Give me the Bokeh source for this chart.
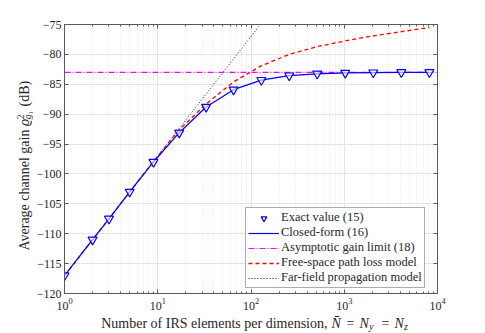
from bokeh.plotting import figure
from bokeh.models import (LogAxis, LinearAxis, Range1d, Legend, LegendItem,
                          LogTicker, SingleIntervalTicker)
from bokeh.layouts import row, column
from bokeh.core.properties import value
from bokeh.embed import file_html
from bokeh.resources import INLINE
import math

# ---- data ----
n_elements = [1, 2, 3, 5, 9, 17, 33, 65, 129, 257, 513, 1025, 2049, 4097, 8193]
exact_db = [-117.0, -111.0, -107.5, -103.0, -98.0, -93.1, -88.8, -85.9, -84.3,
            -83.55, -83.25, -83.1, -83.05, -83.0, -83.0]
closed_db = [-117.0, -111.0, -107.5, -103.0, -98.0, -93.1, -88.8, -85.9, -84.3,
             -83.55, -83.25, -83.1, -83.05, -83.0, -83.0]
fspl_db = [-117.0, -111.0, -107.5, -103.0, -97.9, -92.6, -88.3, -84.6, -81.9,
           -80.0, -78.7, -77.75, -76.9, -76.2, -75.5]
asym_n = [1, 10000]
asym_db = [-83.0, -83.0]
far_n = [1, 10, 100, 1000]
far_db = [-117.0, -97.0, -77.0, -57.0]

FONT = "Liberation Serif"
AX = "#5a5a5a"
TXT = "#262626"

# ---- layout sizes (px) ----
LW = 33                       # left strip holding the y title
BL, BT, FW, FH, BR, BB = 28, 24, 376, 269, 40, 22
MW, MH = BL + FW + BR, BT + FH + BB
BH = 17                       # bottom strip holding the x title
TOTW = LW + MW

p = figure(width=MW, height=MH, x_axis_type="log",
           x_range=Range1d(1, 10000), y_range=Range1d(-120, -75),
           output_backend="svg", toolbar_location=None,
           min_border_left=BL, min_border_right=BR,
           min_border_top=BT, min_border_bottom=BB)
p.background_fill_color = "white"
p.outline_line_color = AX
p.outline_line_width = 1

p.xgrid.grid_line_color = "#e4e4e4"
p.xgrid.minor_grid_line_color = "#e4e4e4"
p.xgrid.minor_grid_line_dash = "1 2"
p.ygrid.grid_line_color = "#e4e4e4"

xt = LogTicker(mantissas=[1], num_minor_ticks=10, desired_num_ticks=5)
yt = SingleIntervalTicker(interval=5)
p.xaxis.ticker = xt
p.yaxis.ticker = yt
p.xgrid.ticker = xt
p.ygrid.ticker = yt


def style_axis(ax, show_labels=True, minor=True):
    ax.axis_line_color = AX
    ax.major_tick_line_color = AX
    ax.minor_tick_line_color = AX if minor else None
    ax.major_tick_in = 4
    ax.major_tick_out = 0
    ax.minor_tick_in = 2
    ax.minor_tick_out = 0
    ax.major_label_text_font = FONT
    ax.major_label_text_color = TXT
    ax.major_label_text_font_size = "12px"
    if not show_labels:
        ax.major_label_text_color = None
        ax.major_label_text_font_size = "2px"
        ax.major_label_standoff = 0


style_axis(p.xaxis[0])
style_axis(p.yaxis[0], minor=False)
p.xaxis.major_label_standoff = 4
p.yaxis.major_label_standoff = 3

top_ax = LogAxis(ticker=xt)
style_axis(top_ax, show_labels=False)
right_ax = LinearAxis(ticker=yt)
style_axis(right_ax, show_labels=False, minor=False)
p.add_layout(top_ax, "above")
p.add_layout(right_ax, "right")

# ---- series ----
r_far = p.line(far_n, far_db, line_color="black", line_width=0.9, line_dash="1 2")
r_fspl = p.line(n_elements, fspl_db, line_color="#ff0000", line_width=1.3, line_dash="4 3")
r_asym = p.line(asym_n, asym_db, line_color="#ff00ff", line_width=1.2, line_dash="6 2 1 2")
r_closed = p.line(n_elements, closed_db, line_color="#0000ff", line_width=1.2)
r_exact = p.scatter(n_elements, exact_db, marker="inverted_triangle", size=9,
                    line_color="#0000ff", line_width=1.2, fill_color="white", fill_alpha=0.6)

legend = Legend(items=[
    LegendItem(label="Exact value (15)", renderers=[r_exact]),
    LegendItem(label="Closed-form (16)", renderers=[r_closed]),
    LegendItem(label="Asymptotic gain limit (18)", renderers=[r_asym]),
    LegendItem(label="Free-space path loss model", renderers=[r_fspl]),
    LegendItem(label="Far-field propagation model", renderers=[r_far]),
], location=(181, 5))
legend.label_text_font = FONT
legend.label_text_font_size = "12.5px"
legend.label_text_color = TXT
legend.label_height = 14
legend.glyph_height = 14
legend.glyph_width = 31
legend.label_standoff = 2
legend.spacing = 0
legend.padding = 2
legend.margin = 0
legend.border_line_color = AX
legend.border_line_width = 1
legend.background_fill_color = "white"
legend.background_fill_alpha = 1
p.add_layout(legend, "center")


def strip(w, h):
    f = figure(width=w, height=h, x_range=Range1d(0, w), y_range=Range1d(0, h),
               output_backend="svg", toolbar_location=None,
               x_axis_location=None, y_axis_location=None, min_border=0)
    f.xgrid.visible = False
    f.ygrid.visible = False
    f.outline_line_color = None
    f.background_fill_color = "white"
    f.border_fill_color = "white"
    return f


def put(f, texts, xs, ys, size, style="normal", align="left", angle=0.0):
    f.text(x=xs, y=ys, text=texts, text_font=value(FONT), text_font_size=value(size),
           text_font_style=style, text_color=TXT, text_align=align,
           text_baseline="middle", angle=angle)


# ---- y title (left strip; page origin of strip = (1, 1)) ----
left = strip(LW, MH)
A = math.pi / 2
xc = 25 - 1


def ly(py):
    return MH - (py - 1)


put(left, ["Average channel gain"], [xc], [ly(124)], "14px", align="right", angle=A)
put(left, ["\u03f1"], [xc], [ly(120)], "14px", style="italic", angle=A)
put(left, ["2"], [xc - 4.5], [ly(112)], "9.5px", angle=A)
put(left, ["g\u2081"], [xc + 3.5], [ly(112)], "9.5px", style="italic", angle=A)
put(left, ["(dB)"], [xc], [ly(97)], "14px", angle=A)

# ---- x title (bottom strip; page top of strip = 1 + MH) ----
bottom = strip(TOTW, BH)


def bx(px):
    return px - 1


def by(py):
    return BH - (py - 1 - MH)


yb = 323.5
put(bottom, ["Number of IRS elements per dimension,"], [bx(328)], [by(yb)], "14px", align="right")
put(bottom, ["N\u0304", "N", "N"], [bx(332), bx(360), bx(395)], [by(yb)] * 3, "14px", style="italic")
put(bottom, ["=", "="], [bx(347), bx(382)], [by(yb)] * 2, "14px")
put(bottom, ["y", "z"], [bx(369.5), bx(404.5)], [by(yb + 3)] * 2, "10px", style="italic")

layout = column(row(left, p, spacing=0), bottom, spacing=0)
open("out.html", "w").write(file_html(layout, INLINE))
